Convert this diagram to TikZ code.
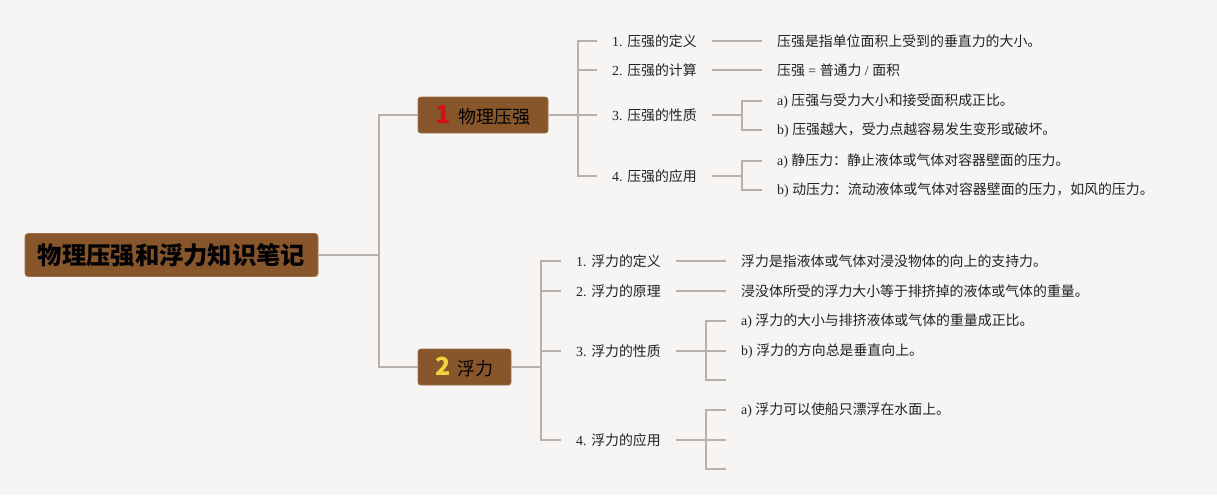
\documentclass[tikz,border=0pt]{standalone}
\usepackage{fontspec}
\setmainfont{Noto Sans CJK SC}
\newfontfamily\lat{Liberation Serif}
\newcommand\lt[1]{{\lat #1}}
\definecolor{bgc}{HTML}{F7F5F3}
\definecolor{brn}{HTML}{87562B}
\definecolor{brnedge}{HTML}{A0714A}
\definecolor{lnc}{HTML}{B7AFA8}
\definecolor{txt}{HTML}{222222}
\definecolor{rednum}{HTML}{D3111B}
\definecolor{yelnum}{HTML}{F3D33B}
\begin{document}
\begin{tikzpicture}[x=1pt,y=-1pt,
 conn/.style={draw=lnc,line width=1.6pt},
 rootbox/.style={fill=brn,draw=brnedge,line width=0.6pt,rounded corners=3pt,minimum width=293pt,minimum height=43pt,inner sep=0pt,font=\fontsize{24.3}{26}\selectfont\bfseries,text=black},
 topicbox/.style={fill=brn,draw=brnedge,line width=0.6pt,rounded corners=2.5pt,minimum height=36pt,inner sep=0pt,font=\fontsize{18}{20}\selectfont,text=black},
 item/.style={anchor=west,inner xsep=15pt,inner ysep=0pt,font=\fontsize{13.9}{16}\selectfont,text=txt},
]
\fill[bgc] (0,0) rectangle (1217,495);
\useasboundingbox (0,0) rectangle (1217,495);

% root and topics
\node[rootbox] (root) at (171.5,255) {物理压强和浮力知识笔记};
\node[topicbox,minimum width=130pt] (b1) at (483,115) {{\fontsize{25}{25}\selectfont\bfseries\color{rednum}1}\hspace{8pt}物理压强};
\node[topicbox,minimum width=93pt] (b2) at (464.5,367) {{\fontsize{25}{25}\selectfont\bfseries\color{yelnum}2}\hspace{7pt}浮力};

\coordinate (j0) at (379,255);
\draw[conn] (root.east) -- (j0);
\draw[conn] (j0) |- (b1.west);
\draw[conn] (j0) |- (b2.west);

% branch 1
\coordinate (j1) at (578,115);
\node[item] (p1) at (597,41) {\lt{1. }压强的定义};
\node[item] (p2) at (597,70) {\lt{2. }压强的计算};
\node[item] (p3) at (597,115) {\lt{3. }压强的性质};
\node[item] (p4) at (597,176) {\lt{4. }压强的应用};
\draw[conn] (b1.east) -- (j1);
\draw[conn] (j1) |- (p1.west);
\draw[conn] (j1) |- (p2.west);
\draw[conn] (j1) -- (p3.west);
\draw[conn] (j1) |- (p4.west);

\node[item] (d1) at (762,41) {压强是指单位面积上受到的垂直力的大小。};
\node[item] (d2) at (762,70) {压强\lt{ = }普通力\lt{ / }面积};
\node[item] (d3a) at (762,101) {\lt{a) }压强与受力大小和接受面积成正比。};
\node[item] (d3b) at (762,130) {\lt{b) }压强越大，受力点越容易发生变形或破坏。};
\node[item] (d4a) at (762,161) {\lt{a) }静压力：静止液体或气体对容器壁面的压力。};
\node[item] (d4b) at (762,190) {\lt{b) }动压力：流动液体或气体对容器壁面的压力，如风的压力。};
\coordinate (k3) at (742,115);
\coordinate (k4) at (742,176);
\draw[conn] (p1.east) -- (d1.west);
\draw[conn] (p2.east) -- (d2.west);
\draw[conn] (p3.east) -- (k3);
\draw[conn] (k3) |- (d3a.west);
\draw[conn] (k3) |- (d3b.west);
\draw[conn] (p4.east) -- (k4);
\draw[conn] (k4) |- (d4a.west);
\draw[conn] (k4) |- (d4b.west);

% branch 2
\coordinate (j2) at (541,367);
\node[item] (q1) at (561,261) {\lt{1. }浮力的定义};
\node[item] (q2) at (561,291) {\lt{2. }浮力的原理};
\node[item] (q3) at (561,351) {\lt{3. }浮力的性质};
\node[item] (q4) at (561,440) {\lt{4. }浮力的应用};
\draw[conn] (b2.east) -- (j2);
\draw[conn] (j2) |- (q1.west);
\draw[conn] (j2) |- (q2.west);
\draw[conn] (j2) |- (q3.west);
\draw[conn] (j2) |- (q4.west);

\node[item] (e1) at (726,261) {浮力是指液体或气体对浸没物体的向上的支持力。};
\node[item] (e2) at (726,291) {浸没体所受的浮力大小等于排挤掉的液体或气体的重量。};
\node[item] (e3a) at (726,321) {\lt{a) }浮力的大小与排挤液体或气体的重量成正比。};
\node[item] (e3b) at (726,351) {\lt{b) }浮力的方向总是垂直向上。};
\coordinate (e3c) at (726,380);
\node[item] (e4a) at (726,410) {\lt{a) }浮力可以使船只漂浮在水面上。};
\coordinate (e4b) at (726,440);
\coordinate (e4c) at (726,469);
\coordinate (k5) at (706,351);
\coordinate (k6) at (706,440);
\draw[conn] (q1.east) -- (e1.west);
\draw[conn] (q2.east) -- (e2.west);
\draw[conn] (q3.east) -- (k5);
\draw[conn] (k5) |- (e3a.west);
\draw[conn] (k5) -- (e3b.west);
\draw[conn] (k5) |- (e3c);
\draw[conn] (q4.east) -- (k6);
\draw[conn] (k6) |- (e4a.west);
\draw[conn] (k6) -- (e4b);
\draw[conn] (k6) |- (e4c);
\end{tikzpicture}
\end{document}
